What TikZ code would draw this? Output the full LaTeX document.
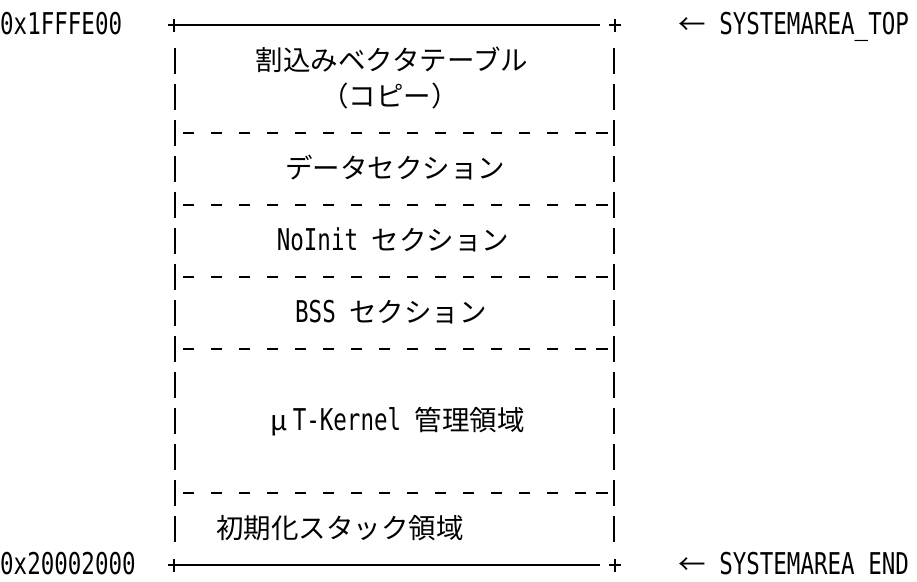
\documentclass[tikz,border=0pt]{standalone}
\usepackage{fontspec}
\newfontfamily\jpfam{Noto Sans CJK JP}
\newfontfamily\monofam[FakeStretch=0.75]{DejaVu Sans Mono}
\newcommand\jpt{\jpfam\fontsize{27.5}{27.5}\selectfont}
\newcommand\lat{\monofam\fontsize{30}{30}\selectfont}
\tikzset{
  lbl/.style={inner sep=0pt, anchor=base west, font=\lat},
  cell/.style={inner sep=0pt, anchor=base},
  art/.style={line width=1.6pt, black},
  bars/.style={art, dash pattern=on 26pt off 10pt},
  sepline/.style={art, dash pattern=on 11pt off 17pt},
}
\begin{document}
\begin{tikzpicture}[x=1pt, y=-1pt]
\path[use as bounding box] (0,0) rectangle (917,581);
% box corners
\coordinate (tl) at (174,25);
\coordinate (tr) at (615,25);
\coordinate (bl) at (174,565);
\coordinate (br) at (615,565);
% top and bottom solid lines
\draw[art] (tl) -- ([xshift=-15pt]tr);
\draw[art] (bl) -- ([xshift=-15pt]br);
\foreach \c in {tl,tr,bl,br}
  \draw[art, line width=1.8pt] ([xshift=-6pt]\c) -- ([xshift=6pt]\c)
             ([yshift=-6.5pt]\c) -- ([yshift=6.5pt]\c);
% vertical bars
\coordinate (lt) at (175,48);  \coordinate (lb) at (175,542);
\coordinate (rt) at (614,48);  \coordinate (rb) at (614,542);
\draw[bars] (lt) -- (lb);
\draw[bars] (rt) -- (rb);
% separators
\foreach \y in {133,205,277,349,493}{
  \coordinate (s1) at (183,\y);
  \coordinate (s2) at (594,\y);
  \coordinate (s3) at (596,\y);
  \coordinate (s4) at (608,\y);
  \draw[sepline] (s1) -- (s2);
  \draw[art] (s3) -- (s4);
}
% address labels
\node[lbl] (atop) at (0,34) {0x1FFFE00};
\node[lbl] (abot) at (0,574) {0x20002000};
\node[lbl] (ntop) at (678,34) {{\jpt ←}\ SYSTEMAREA\_TOP};
\node[lbl] (nbot) at (678,574) {{\jpt ←}\ SYSTEMAREA END};
% cell texts
\node[cell] (t1) at (392,70.5) {\jpt 割込みベクタテーブル};
\node[cell] (t2) at (390,106.5) {\jpt （コピー）};
\node[cell] (t3) at (395,178.5) {\jpt データセクション};
\node[cell] (t4) at (393,250.5) {\lat NoInit \jpt セクション};
\node[cell] (t5) at (391,322.5) {\lat BSS \jpt セクション};
\node[cell] (t6) at (395,430.5) {\jpt\makebox[27.5pt][c]{μ}\lat T-Kernel \jpt 管理領域};
\node[cell, anchor=base west] (t7) at (216,538.5) {\jpt 初期化スタック領域};
\end{tikzpicture}
\end{document}
